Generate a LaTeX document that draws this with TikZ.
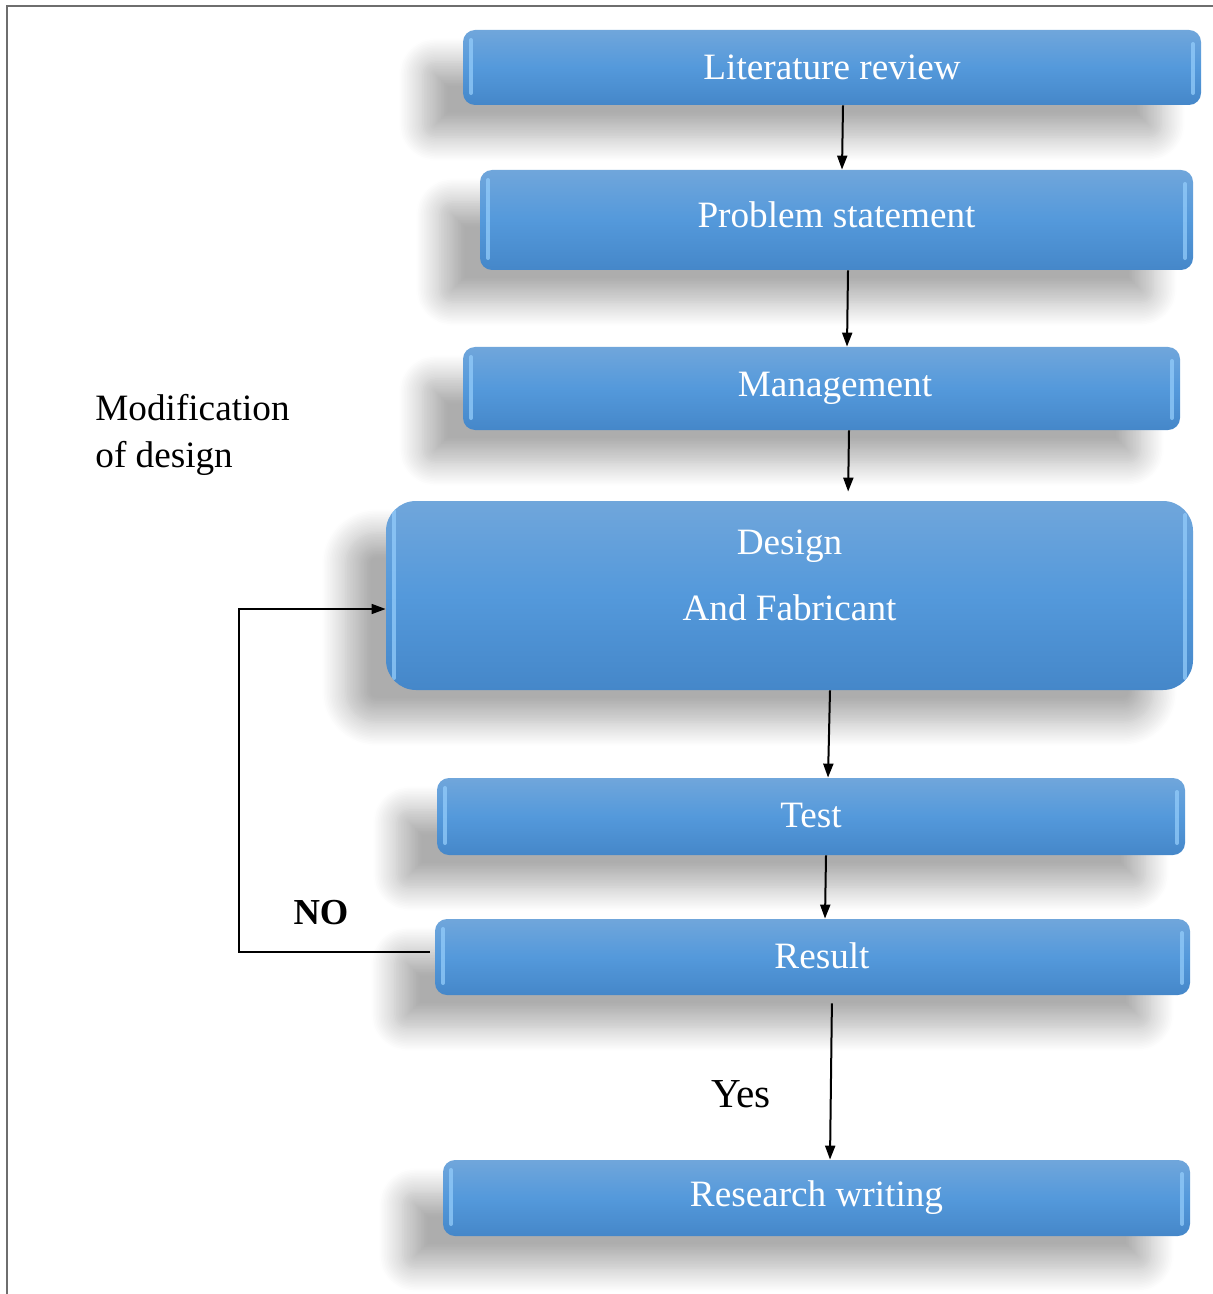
\documentclass[tikz,border=0pt]{standalone}
\usepackage{fontspec}
\setmainfont{Liberation Serif}
\usetikzlibrary{shadows.blur,arrows.meta}
\definecolor{boxtop}{HTML}{70A6DB}
\definecolor{boxmid}{HTML}{5499DB}
\definecolor{boxbot}{HTML}{4587C9}
\definecolor{shine}{HTML}{93CCFA}
\definecolor{frame}{HTML}{6E6E6E}
\begin{document}
\begin{tikzpicture}[x=0.5pt,y=-0.5pt,
  stage/.style={rounded corners=6pt,top color=boxtop,bottom color=boxbot,middle color=boxmid,
    text=white,font=\fontsize{18.6}{22}\selectfont,
    blur shadow={shadow xshift=-20pt,shadow yshift=-16pt,shadow blur radius=12pt,shadow blur steps=16,shadow opacity=32},
    path picture={\draw[shine,line width=2pt,line cap=round,opacity=.75]
      ([xshift=4pt,yshift=-5pt]path picture bounding box.north west) -- ([xshift=4pt,yshift=6pt]path picture bounding box.south west)
      ([xshift=-4pt,yshift=-7pt]path picture bounding box.north east) -- ([xshift=-4pt,yshift=6pt]path picture bounding box.south east);}},
  arr/.style={-{Triangle[length=7pt,width=5pt]},line width=1pt},
  back/.style={-{Triangle[length=7pt,width=5pt]},line width=0.8pt},
  note/.style={font=\fontsize{18.6}{23.5}\selectfont,inner sep=0pt}]
\useasboundingbox (0,0) rectangle (1212,1294);
\draw[frame,line width=1pt] (7,6) rectangle (1240,1320);
\node[stage,minimum width=369pt,minimum height=37.5pt] (L) at (832,67.5) {Literature review};
\node[stage,minimum width=356.5pt,minimum height=50pt] (P) at (836.5,220) {\raisebox{5pt}{Problem statement}};
\node[stage,minimum width=358.5pt,minimum height=41.5pt] (M) at (821.5,388.5) {\hspace*{13.5pt}\raisebox{2pt}{Management}};
\node[stage,rounded corners=15pt,minimum width=403.5pt,minimum height=94.5pt,
  label={[text=white,align=center,yshift=10pt,font=\fontsize{18.6}{22}\selectfont]center:Design\\[11pt]And Fabricant}] (D) at (789.5,595.5) {};
\node[stage,minimum width=374pt,minimum height=38.5pt] (T) at (811,816.5) {\raisebox{1.5pt}{Test}};
\node[stage,minimum width=377.5pt,minimum height=38pt] (R) at (812.5,957) {\hspace*{9.5pt}\raisebox{1.5pt}{Result}};
\node[stage,minimum width=373.5pt,minimum height=38pt] (W) at (816.5,1198) {Research writing};
\draw[arr] (L.south -| 843,0) -- (P.north -| 842,0);
\draw[arr] (P.south -| 848,0) -- (M.north -| 847,0);
\draw[arr,shorten >=4.5pt] (M.south -| 849,0) -- (D.north -| 848,0);
\draw[arr] (D.south -| 830,0) -- (T.north -| 828,0);
\draw[arr] (T.south -| 826,0) -- (R.north -| 825,0);
\draw[arr,shorten <=4pt] (R.south -| 832,0) -- (W.north -| 830,0);
\draw[back] ([xshift=-2.5pt,yshift=2.5pt]R.west) -| (239,609) -- (D.west |- 0,609);
\node[note,align=left,anchor=west] (mod) at (95,435) {Modification\\of design};
\node[note,font=\bfseries\fontsize{18.3}{22}\selectfont] (no) at (321,913) {NO};
\node[note,font=\fontsize{20.6}{24}\selectfont] (yes) at (741,1094) {Yes};
\end{tikzpicture}
\end{document}
